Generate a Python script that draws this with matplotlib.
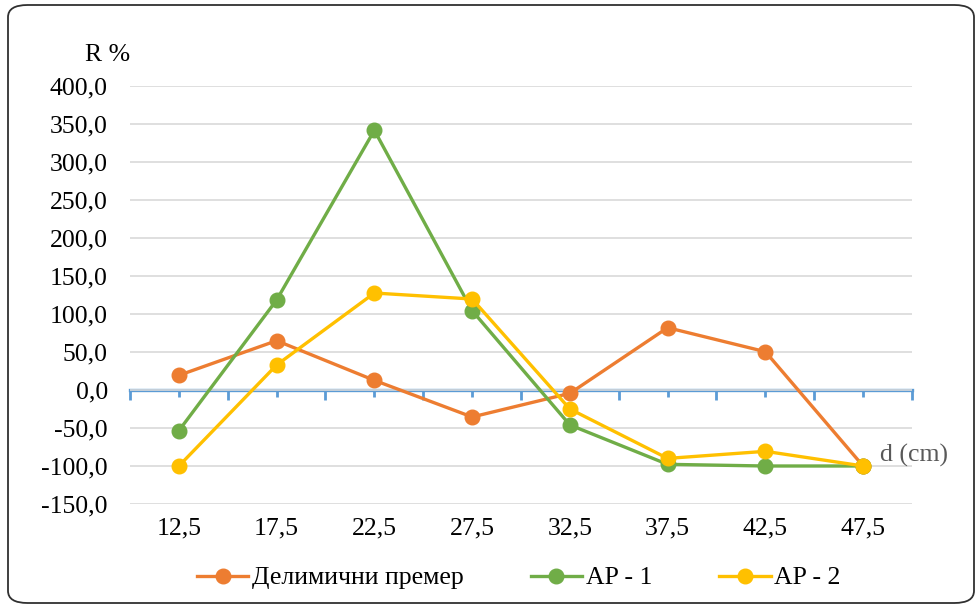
import numpy as np
import matplotlib.pyplot as plt
from matplotlib.patches import FancyBboxPatch

plt.rcParams['font.family'] = ['Liberation Serif', 'DejaVu Serif']

categories = ['12,5', '17,5', '22,5', '27,5', '32,5', '37,5', '42,5', '47,5']
delimicni = [19.3, 64.9, 12.7, -35.5, -4.4, 82.0, 50.4, -100.0]
ap1 = [-53.5, 118.4, 341.7, 104.4, -46.0, -97.8, -100.0, -100.0]
ap2 = [-100.0, 32.9, 127.6, 119.7, -25.0, -90.0, -80.7, -100.0]

series_names = ['Делимични премер', 'AP - 1', 'AP - 2']
colors = ['#ED7D31', '#70AD47', '#FFC000']

fig = plt.figure(figsize=(9.79, 6.08), dpi=100)
ax = fig.add_axes([130 / 979, 1 - 504 / 608, 782 / 979, 418 / 608])

x = np.arange(len(categories))
for vals, name, c in zip([delimicni, ap1, ap2], series_names, colors):
    ax.plot(x, vals, color=c, lw=2.4, marker='o', markersize=10.5, label=name, zorder=3)

ymin, ymax = -150, 400
ax.set_ylim(ymin, ymax)
ax.set_xlim(-0.5, len(categories) - 0.5)
yt = np.arange(-150, 401, 50)
ax.set_yticks(yt)
ax.set_yticklabels([f'{v:.1f}'.replace('.', ',') for v in yt])
ax.tick_params(axis='y', length=0, pad=16, labelsize=18.5)
ax.grid(axis='y', color='#D9D9D9', lw=1.2, zorder=0)

ax.set_xticks(x)
ax.set_xticklabels(categories)
ax.tick_params(axis='x', length=0, pad=10, labelsize=18.5)
for s in ax.spines.values():
    s.set_visible(False)

# blue category axis crossing at zero
zero_frac = (0 - ymin) / (ymax - ymin)
sec = ax.secondary_xaxis(zero_frac)
sec.set_xticks(np.arange(-0.5, len(categories), 1))
sec.set_xticks(x, minor=True)
sec.set_xticklabels([])
sec.tick_params(which='major', direction='out', length=7, width=2, color='#5B9BD5')
sec.tick_params(which='minor', direction='out', length=5, width=2, color='#5B9BD5')
sec.spines['bottom'].set_color('#5B9BD5')
sec.spines['bottom'].set_linewidth(2.4)

fig.text(108 / 979, 1 - 55 / 608, 'R %', fontsize=18.5, ha='center', va='center')
fig.text(914 / 979, 1 - 455 / 608, 'd (cm)', fontsize=18.5, ha='center', va='center',
         color='#595959')

fig.legend(loc='center', bbox_to_anchor=(0.53, 1 - 578 / 608), ncol=3, frameon=False,
           fontsize=18.5, handlelength=2.0, handletextpad=0.15, columnspacing=2.6)

border = FancyBboxPatch((8 / 979, 5 / 608), 966 / 979, 598 / 608,
                        boxstyle='round,pad=0,rounding_size=0.02',
                        transform=fig.transFigure, fill=False, ec='#303030', lw=1.3)
fig.patches.append(border)

fig.savefig('out.png', dpi=100)
